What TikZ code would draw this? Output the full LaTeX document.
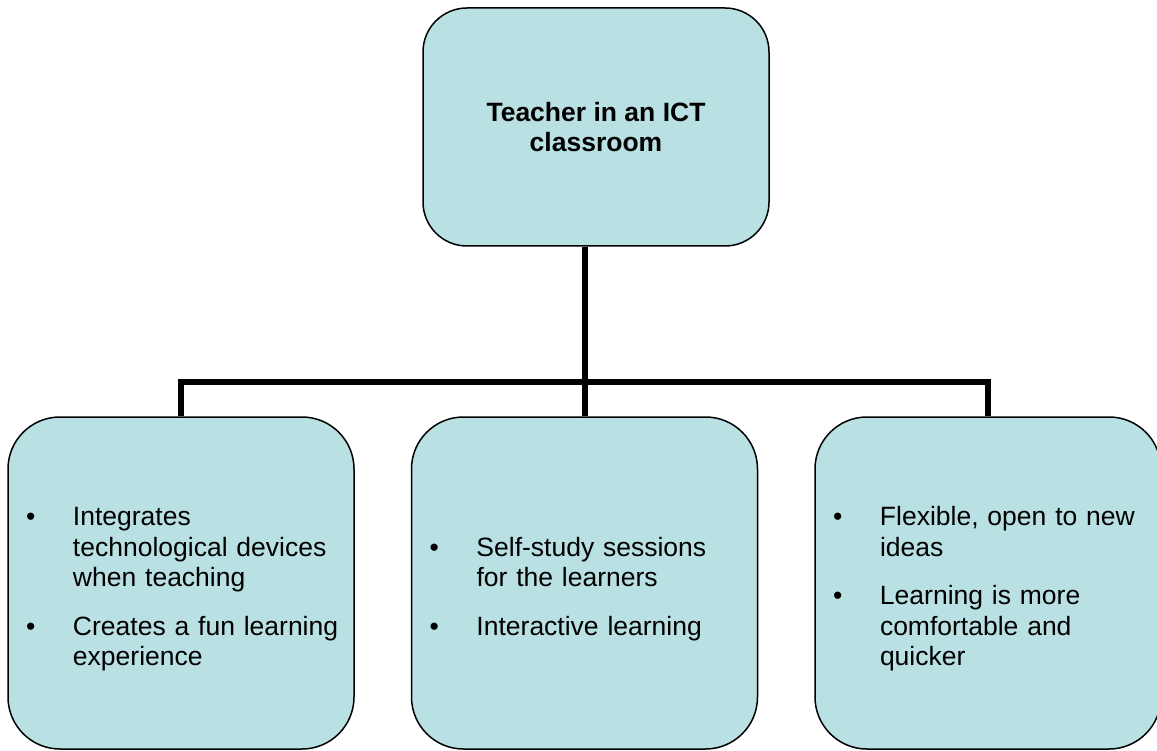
\documentclass[tikz,border=0pt]{standalone}
\usepackage{fontspec}
\setmainfont{Liberation Sans}
\definecolor{cardfill}{HTML}{B9E0E3}
\newcommand{\bul}{\textbullet}
\newcommand{\itemgap}{\noalign{\vskip 18pt}}
\newcommand{\leadgap}{\noalign{\vskip 13pt}}

\begin{document}
\begin{tikzpicture}[x=1pt,y=-1pt,
    card/.style={draw,line width=1.5pt,fill=cardfill,rounded corners=#1,
      inner xsep=18pt,inner ysep=0pt},
    rootbox/.style={card=44pt,minimum width=346pt,minimum height=238pt,
      align=center,font=\bfseries\fontsize{26.5}{30.5}\selectfont},
    leafbox/.style={card=52pt,text width=310pt,minimum height=332pt,
      align=left,font=\fontsize{26.5}{30.5}\selectfont},
    link/.style={line width=6pt}]
    \useasboundingbox (0,0) rectangle (1157,751) ;
    \node[rootbox] (teacher) at (596,127) { Teacher in an ICT\\classroom } ;
    \node[leafbox] (devices) at (181,583) {
      \begin{tabular}{@{}p{47pt}@{}l@{}}
        \leadgap
        \bul & Integrates \\ & technological devices \\ & when teaching \\ \itemgap
        \bul & Creates a fun learning \\ & experience
      \end{tabular} } ;
    \node[leafbox] (study) at (584.5,583) {
      \begin{tabular}{@{}p{47pt}@{}l@{}}
        \leadgap
        \bul & Self-study sessions \\ & for the learners \\ \itemgap
        \bul & Interactive learning
      \end{tabular} } ;
    \node[leafbox] (flexible) at (988,583) {
      \begin{tabular}{@{}p{47pt}@{}l@{}}
        \leadgap
        \bul & Flexible, open to new \\ & ideas \\ \itemgap
        \bul & Learning is more \\ & comfortable and \\ & quicker
      \end{tabular} } ;
    \draw[link] (devices.north) -- ++(0,-34) -| (flexible.north) ;
    \draw[link] (study.north) -- (study.north |- teacher.south) ;
\end{tikzpicture}
\end{document}
